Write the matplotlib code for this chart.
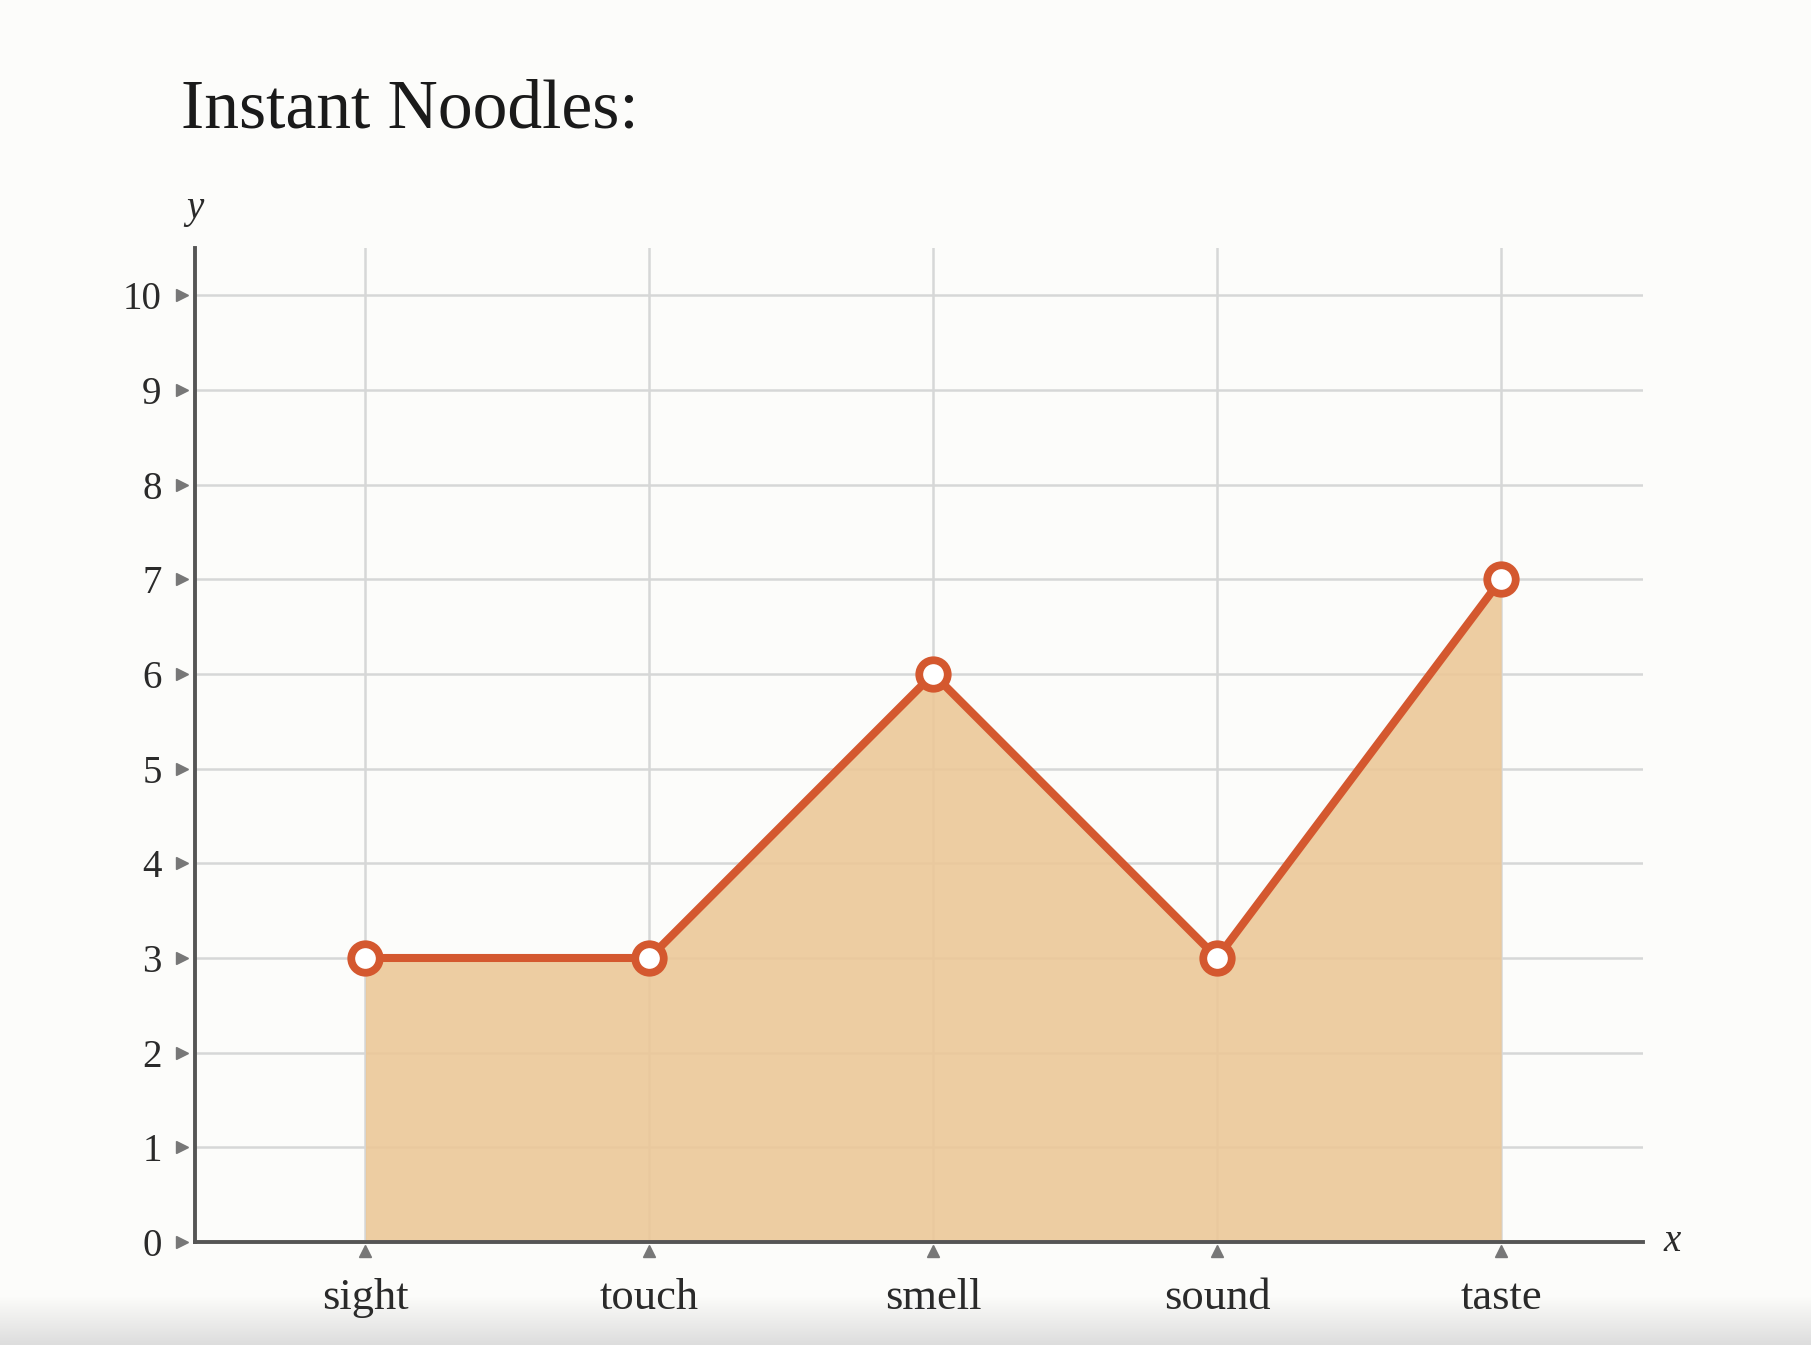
import matplotlib
matplotlib.use("Agg")
import matplotlib.pyplot as plt
import matplotlib.transforms as mtransforms
from matplotlib.colors import LinearSegmentedColormap
import numpy as np

plt.rcParams['font.family'] = ['Liberation Serif', 'DejaVu Serif']

senses = ['sight', 'touch', 'smell', 'sound', 'taste']
scores = [3, 3, 6, 3, 7]
y_ticks = list(range(0, 11))

bg = '#fcfcfa'
line_color = '#d4582f'
fill_color = '#ecc796'
grid_color = '#d6d7d7'
axis_color = '#555555'
text_color = '#2a2a2a'

fig = plt.figure(figsize=(18.11, 13.45), dpi=100, facecolor=bg)

# light grey shade at the very bottom of the screenshot
shade = fig.add_axes([0, 0, 1, 0.036])
cmap = LinearSegmentedColormap.from_list('shade', [bg, '#dddddd'])
grad = np.linspace(0, 1, 60).reshape(-1, 1)
shade.imshow(grad, aspect='auto', cmap=cmap, origin='upper', extent=[0, 1, 0, 1])
shade.axis('off')

ax = fig.add_axes([0.1077, 0.0766, 0.7996, 0.739])
ax.set_facecolor(bg)

x = np.arange(len(senses))
ax.fill_between(x, 0, scores, color=fill_color, alpha=0.88, zorder=1, linewidth=0)
ax.plot(x, scores, color=line_color, linewidth=5.8, zorder=4,
        marker='o', markersize=20.5, markerfacecolor='white',
        markeredgecolor=line_color, markeredgewidth=5.6, clip_on=False)

ax.set_xlim(-0.6, 4.5)
ax.set_ylim(0, 10.5)
ax.set_xticks(x)
ax.set_xticklabels(senses)
ax.set_yticks(y_ticks)
ax.grid(True, color=grid_color, linewidth=1.8, zorder=0)
ax.set_axisbelow(True)

for s in ['top', 'right']:
    ax.spines[s].set_visible(False)
for s in ['left', 'bottom']:
    ax.spines[s].set_color(axis_color)
    ax.spines[s].set_linewidth(2.8)
    ax.spines[s].set_zorder(5)

ax.tick_params(axis='both', length=0, colors=text_color)
ax.tick_params(axis='y', labelsize=28, pad=24)
ax.tick_params(axis='x', labelsize=32, pad=26)

# little triangle tick marks
ytrans = mtransforms.blended_transform_factory(ax.transAxes, ax.transData)
ax.plot([-0.009] * len(y_ticks), y_ticks, linestyle='none', marker='>',
        markersize=8, color='#777777', transform=ytrans, clip_on=False)
xtrans = mtransforms.blended_transform_factory(ax.transData, ax.transAxes)
ax.plot(x, [-0.009] * len(x), linestyle='none', marker='^',
        markersize=8, color='#777777', transform=xtrans, clip_on=False)

ax.text(0.0, 1.04, 'y', transform=ax.transAxes, fontsize=28, style='italic',
        color=text_color, ha='center', va='center')
ax.text(1.02, 0.0, 'x', transform=ax.transAxes, fontsize=28, style='italic',
        color=text_color, ha='center', va='center')

fig.text(181 / 1811, 1 - 127 / 1345, 'Instant Noodles:', fontsize=50,
         color='#1a1a1a', ha='left', va='baseline')

plt.savefig('out.png', dpi=100, facecolor=bg)
